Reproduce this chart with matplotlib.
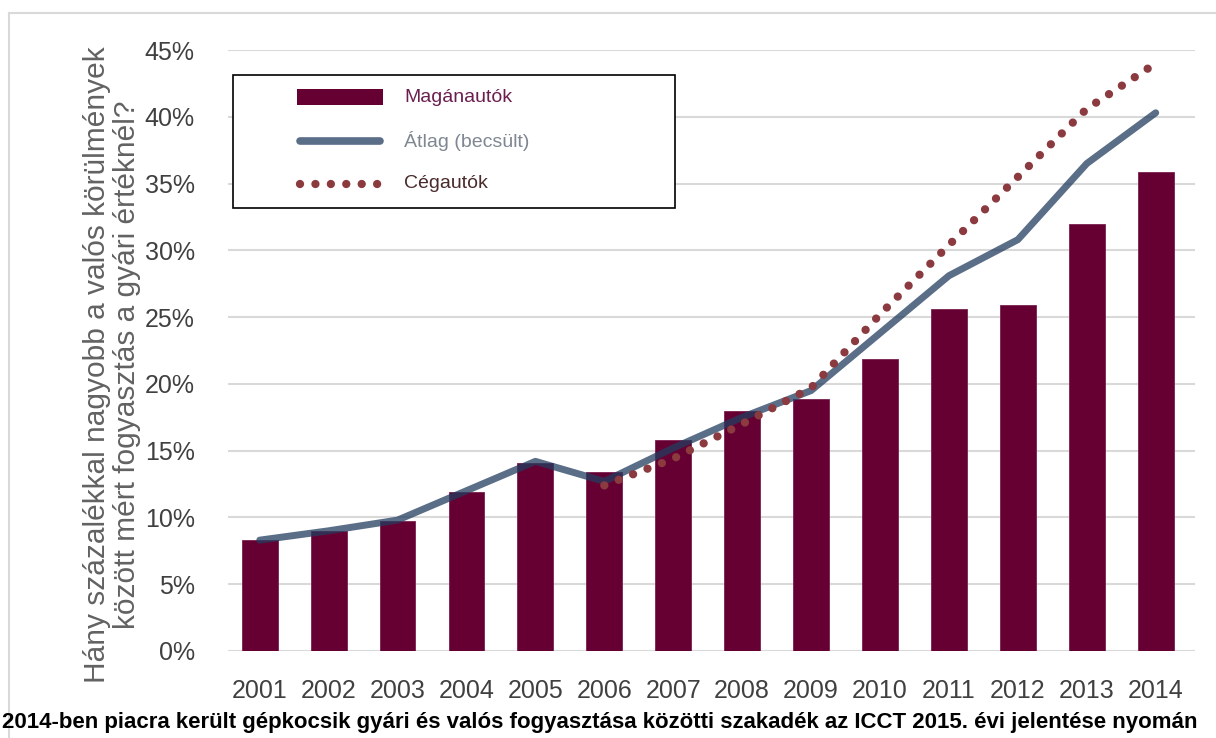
import numpy as np
import matplotlib
matplotlib.use('Agg')
import matplotlib.pyplot as plt
from matplotlib.patches import Rectangle
from matplotlib.lines import Line2D

# gap between real-world and type-approval fuel consumption, percent
years = [2001, 2002, 2003, 2004, 2005, 2006, 2007, 2008, 2009, 2010, 2011, 2012, 2013, 2014]
private_cars = [8.3, 9.0, 9.7, 11.9, 14.1, 13.4, 15.8, 18.0, 18.9, 21.9, 25.6, 25.9, 32.0, 35.9]
average_est = [8.3, 9.0, 9.8, 12.0, 14.2, 12.7, 15.2, 17.5, 19.5, 23.8, 28.1, 30.8, 36.5, 40.3]
company_years = [2006, 2007, 2008, 2009, 2010, 2011, 2012, 2013, 2014]
company_cars = [12.4, 14.4, 17.0, 19.7, 25.2, 30.4, 35.5, 40.6, 44.0]
y_ticks = [0, 5, 10, 15, 20, 25, 30, 35, 40, 45]

labels = ['Magánautók', 'Átlag (becsült)', 'Cégautók']
ylabel = 'Hány százalékkal nagyobb a valós körülmények\nközött mért fogyasztás a gyári értéknél?'
caption = ('2014-ben piacra került gépkocsik gyári és valós fogyasztása közötti '
           'szakadék az ICCT 2015. évi jelentése nyomán')

BAR = '#660033'
LINE = '#233d60'      # drawn at alpha 0.75 -> slate on white, navy over bars
DOTS = '#8b3a3f'
GRID = '#d9d9d9'
TICK = '#404040'
DOT_STYLE = (0, (0.001, 1.85))

plt.rcParams['font.family'] = ['Liberation Sans', 'DejaVu Sans']

W, H = 1216, 738
fig = plt.figure(figsize=(W / 100, H / 100), dpi=100)


def fx(x):
    return x / W


def fy(y):
    return 1 - y / H


ax = fig.add_axes([fx(228), fy(651), fx(1195) - fx(228), fy(50) - fy(651)])

ax.bar(years, private_cars, width=0.52, color=BAR, edgecolor='#7a2050',
       linewidth=0.6, zorder=2)
ax.plot(years, average_est, color=LINE, lw=5, alpha=0.75,
        solid_capstyle='round', solid_joinstyle='round', zorder=3)
ax.plot(company_years, company_cars, color=DOTS, lw=6,
        linestyle=DOT_STYLE, dash_capstyle='round', zorder=4)

ax.set_xlim(2000.54, 2014.57)
ax.set_ylim(0, 45)
ax.set_xticks(years)
ax.set_xticklabels([str(y) for y in years])
ax.set_yticks(y_ticks)
ax.set_yticklabels([f'{v}%' for v in y_ticks])
ax.tick_params(axis='both', length=0, labelsize=18, colors=TICK)
ax.tick_params(axis='y', pad=24)
ax.tick_params(axis='x', pad=20)
ax.yaxis.grid(True, color=GRID, lw=1.5, zorder=0)
ax.set_axisbelow(True)
for s in ax.spines.values():
    s.set_visible(False)

# legend box drawn by hand
fig.add_artist(Rectangle((fx(233), fy(208)), fx(675) - fx(233), fy(75) - fy(208),
                         transform=fig.transFigure, fill=True, facecolor='white',
                         edgecolor='black', lw=1.2, zorder=5))
fig.add_artist(Rectangle((fx(297), fy(105)), fx(383) - fx(297), fy(89) - fy(105),
                         transform=fig.transFigure, facecolor=BAR, edgecolor='none',
                         zorder=6))
fig.add_artist(Line2D([fx(300), fx(380)], [fy(141), fy(141)], color=LINE, lw=5.5,
                      alpha=0.75, solid_capstyle='round', transform=fig.transFigure,
                      zorder=6))
fig.add_artist(Line2D([fx(300), fx(380)], [fy(184), fy(184)], color=DOTS, lw=6,
                      linestyle=DOT_STYLE, dash_capstyle='round',
                      transform=fig.transFigure, zorder=6))
for label, yy, col in zip(labels, [97, 141, 184], ['#6b1f4f', '#7f8792', '#4a2a2a']):
    fig.text(fx(404), fy(yy), label, fontsize=14, color=col, va='center',
             ha='left', zorder=7)

fig.text(fx(112), fy(365), ylabel, rotation=90, fontsize=21.5, color='#626262',
         ha='center', va='center', multialignment='center', linespacing=1.05)

fig.text(fx(2), fy(728), caption, fontsize=16.0, fontweight='bold', color='black',
         ha='left', va='baseline')

# thin frame round the chart
fig.add_artist(Line2D([fx(9), fx(9)], [fy(13), 0], color=GRID, lw=1.5,
                      transform=fig.transFigure))
fig.add_artist(Line2D([fx(9), 1], [fy(13), fy(13)], color=GRID, lw=1.5,
                      transform=fig.transFigure))

fig.savefig('out.png', dpi=100)
